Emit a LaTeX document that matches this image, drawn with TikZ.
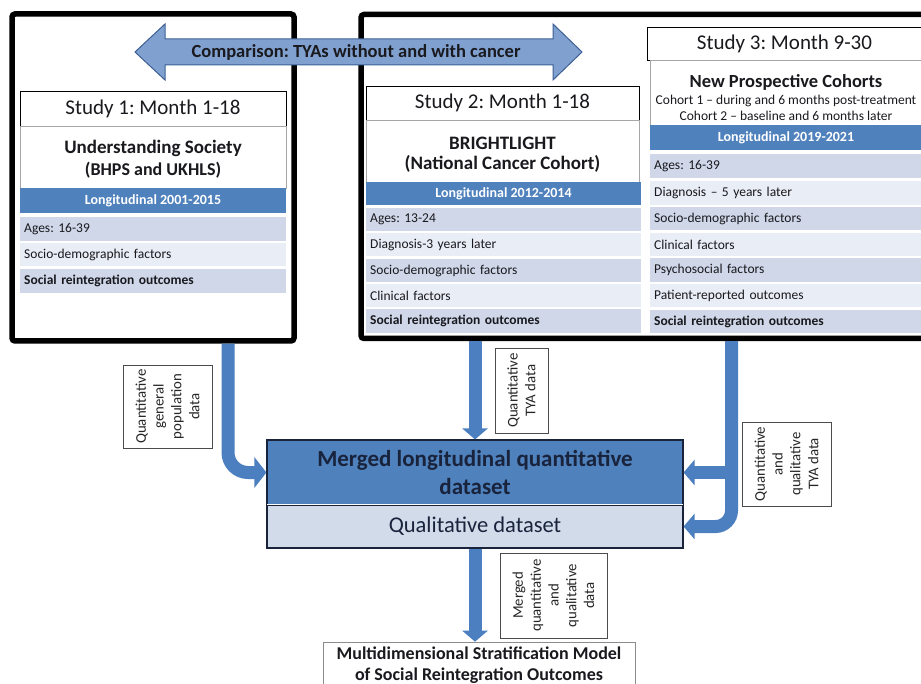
\documentclass[tikz,border=0pt]{standalone}
\usepackage{fontspec}
\setmainfont{Carlito}
\usetikzlibrary{arrows.meta}
\frenchspacing
\definecolor{bandblue}{RGB}{79,129,189}
\definecolor{rowdark}{RGB}{207,215,232}
\definecolor{rowlight}{RGB}{233,237,245}
\definecolor{cmpfill}{RGB}{128,161,208}
\definecolor{cmpdraw}{RGB}{60,96,148}
\definecolor{flowblue}{RGB}{75,127,192}
\definecolor{navy}{RGB}{25,35,60}
\definecolor{qualfill}{RGB}{210,219,234}
\definecolor{txtdark}{RGB}{25,25,30}
\tikzset{
  bigframe/.style={draw=black, line width=5.5pt, rounded corners=3pt, inner sep=0pt},
  hdrbox/.style={draw=black, line width=0.7pt, fill=white, inner sep=0pt, text=txtdark,
    font=\fontsize{21}{24}\selectfont},
  titlebox/.style={draw=black!35, line width=0.5pt, fill=white, inner sep=0pt},
  titletext/.style={align=center, inner sep=0pt, text=txtdark, font=\bfseries\fontsize{19}{22}\selectfont},
  band/.style={fill=bandblue, inner sep=0pt, text=white, font=\bfseries\fontsize{14}{16}\selectfont},
  rowbox/.style={anchor=west, inner xsep=4pt, inner ysep=0pt, minimum height=23.5pt, align=left,
    text=txtdark, font=\fontsize{13.5}{16}\selectfont},
  rowd/.style={rowbox, fill=rowdark},
  rowl/.style={rowbox, fill=rowlight},
  labbox/.style={draw=black!70, line width=0.6pt, fill=white, rotate=90, align=center, inner sep=0pt,
    text=black!85, font=\fontsize{14.8}{17.8}\selectfont},
  flow/.style={draw=flowblue, line width=13pt},
  bigtip/.style={-{Triangle[width=30pt,length=12pt]}},
  smalltip/.style={-{Triangle[width=25pt,length=11pt]}},
}
\begin{document}
\begin{tikzpicture}[x=1pt,y=-1pt]
\useasboundingbox (0,0) rectangle (921,684);
\clip (0,0) rectangle (921,684);
\fill[white] (0,0) rectangle (921,684);

% ---------- Study 1 ----------
\node[bigframe, minimum width=282pt, minimum height=327pt] (s1frame) at (153,177.5) {};
\node[hdrbox, minimum width=266pt, minimum height=35pt] (s1hdr) at (153,108.5) {Study 1: Month 1-18};
\node[titlebox, minimum width=266pt, minimum height=62pt] (s1title) at (153,157) {};
\node[titletext] (s1t) at (153,159) {Understanding Society\\{\fontsize{18}{22}\selectfont (BHPS and UKHLS)}};
\node[band, minimum width=266pt, minimum height=25pt] (s1band) at (153,200.5) {Longitudinal 2001-2015};
\node[rowd, text width=258pt] (s1r1) at (20,229) {Ages: 16-39};
\node[rowl, text width=258pt] (s1r2) at (20,254.5) {Socio-demographic factors};
\node[rowd, text width=258pt] (s1r3) at (20,281) {\textbf{Social reintegration outcomes}};

% ---------- Study 2 + 3 frame ----------
\node[bigframe, minimum width=580pt, minimum height=324pt] (s2frame) at (651,176.5) {};

% ---------- Study 2 ----------
\node[hdrbox, minimum width=273pt, minimum height=34pt] (s2hdr) at (502.5,103) {Study 2: Month 1-18};
\node[titlebox, minimum width=273pt, minimum height=62pt] (s2title) at (502.5,151) {};
\node[titletext, font=\bfseries\fontsize{19}{20}\selectfont] (s2t) at (502.5,154.5) {BRIGHTLIGHT\\(National Cancer Cohort)};
\node[band, minimum width=275pt, minimum height=23pt] (s2band) at (503.5,193.5) {Longitudinal 2012-2014};
\node[rowd, text width=267pt] (s2r1) at (366,219.5) {Ages: 13-24};
\node[rowl, text width=267pt] (s2r2) at (366,244.5) {Diagnosis-3 years later};
\node[rowd, text width=267pt] (s2r3) at (366,270.5) {Socio-demographic factors};
\node[rowl, text width=267pt] (s2r4) at (366,295.5) {Clinical factors};
\node[rowd, text width=267pt] (s2r5) at (366,321) {\textbf{Social reintegration outcomes}};

% ---------- Study 3 ----------
\node[hdrbox, minimum width=275pt, minimum height=33pt] (s3hdr) at (784.5,43.5) {Study 3: Month 9-30};
\node[titlebox, minimum width=272pt, minimum height=65pt] (s3title) at (786,92.5) {};
\node[titletext, font=\fontsize{13.5}{16}\selectfont] (s3t) at (786,98)
  {{\bfseries\fontsize{18.5}{19}\selectfont New Prospective Cohorts}\\[1pt]
   Cohort 1 – during and 6 months post-treatment\\
   Cohort 2 – baseline and 6 months later};
\node[band, minimum width=272pt, minimum height=25pt] (s3band) at (786,137.5) {Longitudinal 2019-2021};
\node[rowd, text width=264pt] (s3r1) at (650,166) {Ages: 16-39};
\node[rowl, text width=264pt] (s3r2) at (650,193) {Diagnosis – 5 years later};
\node[rowd, text width=264pt] (s3r3) at (650,218.5) {Socio-demographic factors};
\node[rowl, text width=264pt] (s3r4) at (650,244.5) {Clinical factors};
\node[rowd, text width=264pt] (s3r5) at (650,270) {Psychosocial factors};
\node[rowl, text width=264pt] (s3r6) at (650,295.5) {Patient-reported outcomes};
\node[rowd, text width=264pt] (s3r7) at (650,321.5) {\textbf{Social reintegration outcomes}};

% ---------- Comparison arrow ----------
\draw[fill=cmpfill, draw=cmpdraw, line width=1pt, line join=miter]
  (135,52) -- (165,24) -- (165,39) -- (553,39) -- (553,24) -- (582,52)
  -- (553,80) -- (553,65) -- (165,65) -- (165,80) -- cycle;
\node[font=\bfseries\fontsize{18.5}{22}\selectfont, text=txtdark, inner sep=0pt] (cmp) at (356,52)
  {Comparison: TYAs without and with cancer};

% ---------- Merged dataset ----------
\node[draw=navy, line width=1.1pt, fill=bandblue, minimum width=416pt, minimum height=65pt,
  align=center, inner sep=0pt, text=navy, font=\bfseries\fontsize{23}{28}\selectfont]
  (mergedq) at (475,472.5) {Merged longitudinal quantitative\\dataset};
\node[draw=navy, line width=1.1pt, fill=qualfill, minimum width=416pt, minimum height=43pt,
  inner sep=0pt, text=navy, font=\fontsize{22.5}{26}\selectfont]
  (qual) at (475,526.5) {Qualitative dataset};
\draw[white, line width=1.2pt, shorten <=1pt, shorten >=1pt] (qual.north west) -- (qual.north east);

% ---------- Final model ----------
\node[draw=black!45, line width=0.6pt, fill=white, minimum width=312pt, minimum height=46pt, align=center,
  inner sep=0pt, text=txtdark, font=\bfseries\fontsize{18}{21.5}\selectfont]
  (final) at (479,665) {Multidimensional Stratification Model\\of Social Reintegration Outcomes};

% ---------- Flow arrows ----------
\coordinate (lx) at (228,0);
\coordinate (rx) at (731.5,0);
\draw[flow, bigtip, rounded corners=20pt] (s1frame.south -| lx) |- (mergedq.west);
\draw[flow, smalltip] (s2frame.south -| mergedq.north) -- (mergedq.north);
\draw[flow, smalltip, rounded corners=16pt] (s2frame.south -| rx) |- (qual.east);
\draw[flow, smalltip] (rx |- mergedq.east) -- (mergedq.east);
\draw[flow, smalltip] (qual.south) -- (qual.south |- final.north);

% ---------- Labels ----------
\node[labbox, minimum width=83pt, minimum height=89pt] (lab1) at (167.5,406.5)
  {Quantitative\\general\\population\\data};
\node[labbox, minimum width=85pt, minimum height=53pt] (lab2) at (521.5,390.5)
  {Quantitative\\TYA data};
\node[labbox, minimum width=84pt, minimum height=89pt] (lab3) at (786.5,464)
  {Quantitative\\and\\qualitative\\TYA data};
\node[labbox, minimum width=85pt, minimum height=107pt] (lab4) at (553.5,595.5)
  {Merged\\quantitative\\and\\qualitative\\data};
\end{tikzpicture}
\end{document}
